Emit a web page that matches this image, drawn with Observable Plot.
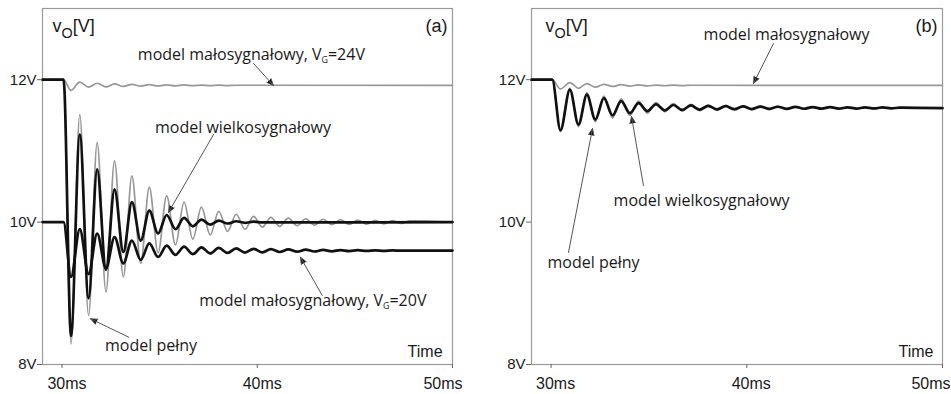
<!DOCTYPE html>
<html><head><meta charset="utf-8">
<script src="https://cdn.jsdelivr.net/npm/d3@7"></script>
<script src="https://cdn.jsdelivr.net/npm/@observablehq/plot@0.6"></script>
<style>
body{margin:0;background:#fff;}
#wrap{display:flex;width:951px;height:394px;}
#wrap svg{overflow:visible;}
</style></head><body><div id="wrap"></div>
<script>
// ---- axes ----
const xTicks = [30, 40, 50];
const yTicks = [8, 10, 12];

// ---- panel (a): times of the extrema (ms) and values (V) ----
const aStep = 30.08;
const tA = [30.46,30.91,31.36,31.80,32.25,32.69,33.14,33.58,34.03,34.47,34.92,35.36,35.81,36.25,36.70,37.14,37.59,38.03,38.48,38.92,39.37,39.81,40.26,40.70,41.15,41.59,42.04,42.48,42.93,43.37,43.82,44.26,44.71,45.15,45.60,46.04,46.49,46.93,47.38,47.82];
const aFull  = [8.29,11.51,8.69,11.12,9.02,10.86,9.23,10.65,9.42,10.49,9.57,10.37,9.68,10.28,9.76,10.21,9.82,10.15,9.87,10.11,9.90,10.08,9.93,10.065,9.94,10.055,9.95,10.047,9.957,10.04,9.963,10.034,9.968,10.029,9.972,10.025,9.976,10.021,9.98,10.018];
const aLarge = [8.40,11.23,8.93,10.74,9.33,10.46,9.58,10.28,9.74,10.16,9.84,10.10,9.90,10.06,9.94,10.035,9.965,10.02,9.98,10.012,9.99,10.006,9.995];
const a20    = [9.23,9.90,9.27,9.84,9.35,9.79,9.42,9.74,9.47,9.70,9.51,9.67,9.54,9.655,9.55,9.645,9.56,9.637,9.567,9.63,9.572,9.625,9.576,9.62,9.58,9.616,9.584,9.613,9.587,9.61,9.59,9.607,9.593,9.605,9.595,9.603,9.597,9.602,9.598];
const a24    = [11.85,11.965,11.895,11.95,11.90,11.94,11.905,11.935,11.91,11.93,11.912,11.928,11.914,11.926,11.916,11.924,11.917,11.923,11.918,11.922];
const aStart  = {full: 12, large: 12, s20: 10, s24: 12};
const aSteady = {full: 10, large: 10, s20: 9.6, s24: 11.92};

// ---- panel (b) ----
const bStep = 30.06;
const tB = [30.48,30.96,31.40,31.83,32.26,32.70,33.14,33.58,34.03,34.47,34.92,35.36,35.81,36.25,36.70,37.14,37.59,38.03,38.48,38.92,39.37,39.81,40.26,40.70,41.15,41.59,42.04,42.48,42.93,43.37,43.82,44.26,44.71,45.15,45.60,46.04,46.49,46.93,47.38,47.82];
const bFull  = [11.27,11.88,11.34,11.82,11.41,11.77,11.46,11.73,11.50,11.70,11.53,11.68,11.55,11.665,11.56,11.655,11.565,11.645,11.57,11.638,11.575,11.632,11.578,11.628,11.581,11.624,11.584,11.62,11.587,11.617,11.589,11.614,11.591,11.612,11.593,11.61,11.594,11.608,11.595,11.607];
const bLarge = [11.29,11.86,11.37,11.79,11.44,11.74,11.50,11.70,11.53,11.67,11.56,11.655,11.57,11.645,11.575,11.638,11.58,11.632,11.583,11.628,11.586,11.625,11.588,11.622,11.59,11.62,11.591,11.618,11.592,11.616,11.593,11.614,11.594,11.612,11.595,11.611,11.596,11.61,11.597,11.608];
const bSmall = [11.87,11.96,11.88,11.945,11.895,11.935,11.905,11.93,11.91,11.927,11.913,11.925,11.915,11.923,11.917,11.922];
const bStart  = {full: 12, large: 12, small: 12};
const bSteady = {full: 11.6, large: 11.6, small: 11.92};

function rows(v0, stepT, times, vals, vEnd) {
  const r = [{t: 29, v: v0}, {t: stepT, v: v0}];
  vals.forEach((v, i) => r.push({t: times[i], v}));
  r.push({t: 50, v: vEnd});
  return r;
}

// ---- annotations (data coordinates) ----
const notesA = [
  {t: 29.51, v: 12.67, text: "v{O}[V]", anchor: "start", font: "Liberation Sans, Arial", size: 18},
  {t: 49.74, v: 12.67, text: "(a)", anchor: "end", font: "Liberation Sans, Arial", size: 18},
  {t: 39.70, v: 12.281, text: "model małosygnałowy, V{G}=24V"},
  {t: 39.27, v: 11.256, text: "model wielkosygnałowy"},
  {t: 42.85, v: 8.826, text: "model małosygnałowy, V{G}=20V"},
  {t: 34.56, v: 8.194, text: "model pełny"},
  {t: 49.49, v: 8.112, text: "Time", anchor: "end", font: "Liberation Sans, Arial", size: 16}
];
const arrowsA = [
  {t1: 39.81, v1: 12.228, t2: 40.83, v2: 11.918},
  {t1: 37.76, v1: 11.23, t2: 35.45, v2: 10.135},
  {t1: 43.33, v1: 8.969, t2: 42.21, v2: 9.507},
  {t1: 33.42, v1: 8.383, t2: 31.46, v2: 8.642}
];
const notesB = [
  {t: 29.72, v: 12.67, text: "v{O}[V]", anchor: "start", font: "Liberation Sans, Arial", size: 18},
  {t: 49.74, v: 12.67, text: "(b)", anchor: "end", font: "Liberation Sans, Arial", size: 18},
  {t: 42.03, v: 12.562, text: "model małosygnałowy"},
  {t: 37.69, v: 10.230, text: "model wielkosygnałowy"},
  {t: 32.17, v: 9.360, text: "model pełny"},
  {t: 49.54, v: 8.112, text: "Time", anchor: "end", font: "Liberation Sans, Arial", size: 16}
];
const arrowsB = [
  {t1: 41.365, v1: 12.508, t2: 40.343, v2: 11.947},
  {t1: 34.72, v1: 10.514, t2: 34.11, v2: 11.483},
  {t1: 30.89, v1: 9.573, t2: 32.117, v2: 11.315}
];

const subStyle = {O: {scale: 0.8, shift: 6}, G: {scale: 0.55, shift: 3}};

function noteMarks(notes) {
  return notes.map(n => Plot.text([n], {
    x: "t", y: "v", text: "text",
    textAnchor: n.anchor || "middle", lineAnchor: "bottom",
    fontFamily: n.font || "Open Sans", fontSize: n.size || 16, fill: "#1a1a1a"
  }));
}

function panel(cfg) {
  const marks = [
    Plot.frame({stroke: "#9a9a9a", strokeWidth: 1.2}),
    ...cfg.thin.map(d => Plot.line(d, {x: "t", y: "v", stroke: "#979797", strokeWidth: 1.7, curve: "monotone-x"})),
    ...cfg.thick.map(d => Plot.line(d, {x: "t", y: "v", stroke: "#111", strokeWidth: 2.7, curve: "monotone-x"})),
    Plot.arrow(cfg.arrows, {x1: "t1", y1: "v1", x2: "t2", y2: "v2", stroke: "#555", fill: "#111", strokeWidth: 1, headLength: 11, headAngle: 45}),
    ...noteMarks(cfg.notes),
    Plot.axisY({ticks: yTicks, tickFormat: d => d + "V", tickSize: 5, tickPadding: 1, label: null, fontSize: 15, stroke: "#666"}),
    Plot.axisX({ticks: xTicks, tickFormat: () => "", tickSize: 4, label: null, stroke: "#666"}),
    Plot.axisX({ticks: xTicks.slice(0, 2), tickFormat: d => d + "ms", tickSize: 0, tickPadding: 13, dx: cfg.dxLab, label: null, fontSize: 16}),
    Plot.axisX({ticks: xTicks.slice(2), tickFormat: d => d + "ms", tickSize: 0, tickPadding: 13, dx: cfg.dxEnd, textAnchor: "end", label: null, fontSize: 16})
  ];
  const svg = Plot.plot({
    width: cfg.width, height: 394,
    marginLeft: cfg.ml, marginRight: cfg.mr, marginTop: 8, marginBottom: 30,
    x: {domain: [29, 50]},
    y: {domain: [8, 13]},
    style: {fontFamily: "Liberation Sans, Arial, sans-serif", fontSize: "15px", color: "#1a1a1a", background: "transparent", overflow: "visible"},
    marks
  });
  // subscripts
  d3.select(svg).selectAll("text").each(function() {
    const s = this.textContent;
    if (!s.includes("{")) return;
    const parts = s.split(/(\{[^}]*\})/).filter(p => p);
    this.textContent = "";
    let pending = 0;
    for (const p of parts) {
      const ts = document.createElementNS("http://www.w3.org/2000/svg", "tspan");
      if (p.startsWith("{")) {
        const c = p.slice(1, -1), st = subStyle[c];
        ts.textContent = c;
        ts.setAttribute("font-size", st.scale + "em");
        ts.setAttribute("dy", st.shift);
        pending = st.shift;
      } else {
        ts.textContent = p;
        if (pending) ts.setAttribute("dy", -pending);
        pending = 0;
      }
      this.appendChild(ts);
    }
  });
  return svg;
}

const wrap = document.getElementById("wrap");
wrap.appendChild(panel({
  width: 472, ml: 42, mr: 20, dxLab: 5, dxEnd: 10,
  thin: [rows(aStart.full, aStep, tA, aFull, aSteady.full), rows(aStart.s24, aStep, tA, a24, aSteady.s24)],
  thick: [rows(aStart.large, aStep, tA, aLarge, aSteady.large), rows(aStart.s20, aStep, tA, a20, aSteady.s20)],
  arrows: arrowsA, notes: notesA
}));
wrap.appendChild(panel({
  width: 479, ml: 59, mr: 9, dxLab: 4.5, dxEnd: 8,
  thin: [rows(bStart.full, bStep, tB, bFull, bSteady.full), rows(bStart.small, bStep, tB, bSmall, bSteady.small)],
  thick: [rows(bStart.large, bStep, tB, bLarge, bSteady.large)],
  arrows: arrowsB, notes: notesB
}));
</script></body></html>
